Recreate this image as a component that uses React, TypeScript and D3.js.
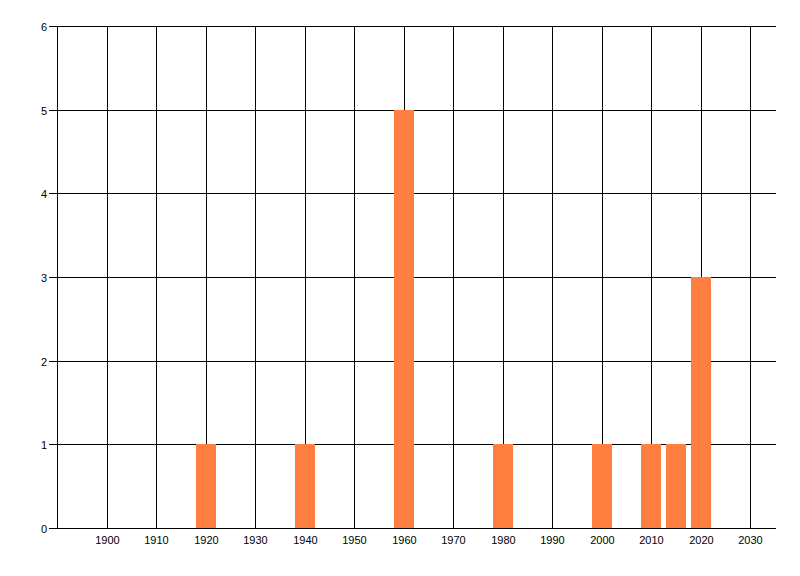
import * as d3 from 'd3';
import { useEffect, useRef } from 'react';

const width = 800;
const height = 576;
const left = 57;
const right = 776;
const top = 26;
const bottom = 528;

const years = [1920, 1940, 1960, 1980, 2000, 2010, 2015, 2020];
const counts = [1, 1, 5, 1, 1, 1, 1, 3];
const xTicks = [1900, 1910, 1920, 1930, 1940, 1950, 1960, 1970, 1980, 1990, 2000, 2010, 2020, 2030];
const yTicks = [0, 1, 2, 3, 4, 5, 6];

export default function App() {
  const ref = useRef<SVGSVGElement>(null);

  useEffect(() => {
    if (!ref.current) return;
    const svg = d3.select(ref.current);
    svg.selectAll('*').remove();

    const x = d3.scaleLinear().domain([1890, 2035.2]).range([left + 0.5, right]);
    const y = d3.scaleLinear().domain([0, 6]).range([bottom, top]);
    const px = (v: number) => Math.round(x(v)) + 0.5;
    const py = (v: number) => Math.round(y(v)) + 0.5;

    // vertical grid
    svg
      .append('g')
      .selectAll('line')
      .data(xTicks)
      .join('line')
      .attr('x1', (d) => px(d))
      .attr('x2', (d) => px(d))
      .attr('y1', top)
      .attr('y2', bottom)
      .attr('stroke', '#000');

    // horizontal grid + tick marks
    svg
      .append('g')
      .selectAll('line')
      .data(yTicks)
      .join('line')
      .attr('x1', left - 8)
      .attr('x2', right)
      .attr('y1', (d) => py(d))
      .attr('y2', (d) => py(d))
      .attr('stroke', '#000');

    // left axis line
    svg
      .append('line')
      .attr('x1', left + 0.5)
      .attr('x2', left + 0.5)
      .attr('y1', top)
      .attr('y2', bottom + 1)
      .attr('stroke', '#000');

    // bars
    const barW = 20;
    svg
      .append('g')
      .selectAll('rect')
      .data(years)
      .join('rect')
      .attr('x', (d) => Math.round(x(d)) - barW / 2)
      .attr('width', barW)
      .attr('y', (_, i) => Math.round(y(counts[i])))
      .attr('height', (_, i) => Math.round(y(0)) - Math.round(y(counts[i])))
      .attr('fill', '#FF7F40');

    // labels
    svg
      .append('g')
      .attr('font-family', '"Liberation Sans", Arial, sans-serif')
      .attr('font-size', 11)
      .selectAll('text')
      .data(xTicks)
      .join('text')
      .attr('x', (d) => px(d))
      .attr('y', bottom + 16)
      .attr('text-anchor', 'middle')
      .attr('fill', '#000')
      .text((d) => String(d));

    svg
      .append('g')
      .attr('font-family', '"Liberation Sans", Arial, sans-serif')
      .attr('font-size', 11)
      .selectAll('text')
      .data(yTicks)
      .join('text')
      .attr('x', 47)
      .attr('y', (d) => py(d) + 4)
      .attr('text-anchor', 'end')
      .attr('fill', '#000')
      .text((d) => String(d));
  }, []);

  return (
    <svg
      ref={ref}
      width={width}
      height={height}
      style={{ position: 'absolute', left: 0, top: 0, background: '#fff' }}
    />
  );
}
